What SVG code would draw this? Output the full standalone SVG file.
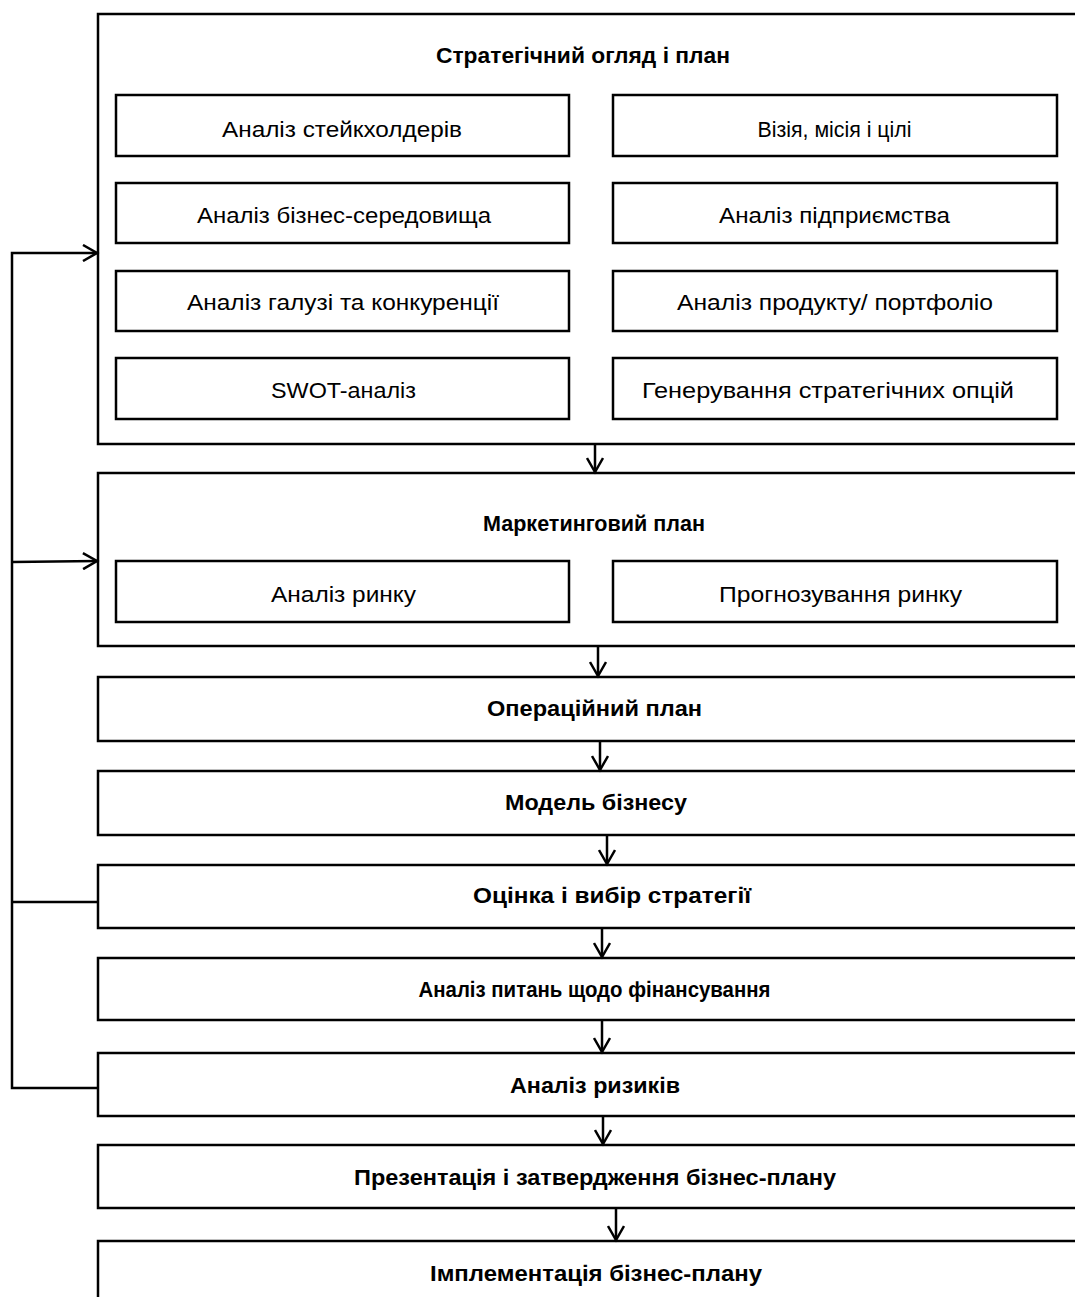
<svg xmlns="http://www.w3.org/2000/svg" width="1075" height="1297" viewBox="0 0 1075 1297">
<defs>
<style>
.b{fill:#fff;stroke:#000;stroke-width:2.5}
.t{font-family:"Liberation Sans",Arial,sans-serif;font-size:22px;text-anchor:middle;fill:#000}
.h{font-family:"Liberation Sans",Arial,sans-serif;font-size:22px;font-weight:bold;text-anchor:middle;fill:#000}
.c{fill:none;stroke:#000;stroke-width:2.5}
</style>
<marker id="a" markerWidth="18" markerHeight="18" refX="15" refY="9" orient="auto" markerUnits="userSpaceOnUse">
<path d="M1,1 L15,9 L1,17" fill="none" stroke="#000" stroke-width="2.5"/>
</marker>
</defs>
<rect width="1075" height="1297" fill="#fff"/>
<g id="strategic">
<rect class="b" x="98" y="14" width="1000" height="430"/>
<text class="h" x="583" y="63" textLength="294" lengthAdjust="spacingAndGlyphs">Стратегічний огляд і план</text>
</g>
<g id="stakeholders"><rect class="b" x="116" y="95" width="453" height="61"/><text class="t" x="342" y="137" textLength="240" lengthAdjust="spacingAndGlyphs">Аналіз стейкхолдерів</text></g>
<g id="vision"><rect class="b" x="613" y="95" width="444" height="61"/><text class="t" x="834.5" y="137" textLength="154" lengthAdjust="spacingAndGlyphs">Візія, місія і цілі</text></g>
<g id="environment"><rect class="b" x="116" y="183" width="453" height="60"/><text class="t" x="344" y="223" textLength="294" lengthAdjust="spacingAndGlyphs">Аналіз бізнес-середовища</text></g>
<g id="enterprise"><rect class="b" x="613" y="183" width="444" height="60"/><text class="t" x="834.5" y="223" textLength="231" lengthAdjust="spacingAndGlyphs">Аналіз підприємства</text></g>
<g id="industry"><rect class="b" x="116" y="271" width="453" height="60"/><text class="t" x="343" y="310" textLength="312" lengthAdjust="spacingAndGlyphs">Аналіз галузі та конкуренції</text></g>
<g id="product"><rect class="b" x="613" y="271" width="444" height="60"/><text class="t" x="835" y="310" textLength="316" lengthAdjust="spacingAndGlyphs">Аналіз продукту/ портфоліо</text></g>
<g id="swot"><rect class="b" x="116" y="358" width="453" height="61"/><text class="t" x="343.5" y="398" textLength="145" lengthAdjust="spacingAndGlyphs">SWOT-аналіз</text></g>
<g id="options"><rect class="b" x="613" y="358" width="444" height="61"/><text class="t" x="828" y="398" textLength="372" lengthAdjust="spacingAndGlyphs">Генерування стратегічних опцій</text></g>
<g id="marketing">
<rect class="b" x="98" y="473" width="1000" height="173"/>
<text class="h" x="594" y="531" textLength="222" lengthAdjust="spacingAndGlyphs">Маркетинговий план</text>
</g>
<g id="market"><rect class="b" x="116" y="561" width="453" height="61"/><text class="t" x="343.5" y="602" textLength="145" lengthAdjust="spacingAndGlyphs">Аналіз ринку</text></g>
<g id="forecast"><rect class="b" x="613" y="561" width="444" height="61"/><text class="t" x="840.5" y="602" textLength="243" lengthAdjust="spacingAndGlyphs">Прогнозування ринку</text></g>
<g id="operational"><rect class="b" x="98" y="677" width="1000" height="64"/><text class="h" x="594.5" y="716" textLength="215" lengthAdjust="spacingAndGlyphs">Операційний план</text></g>
<g id="model"><rect class="b" x="98" y="771" width="1000" height="64"/><text class="h" x="596" y="810" textLength="182" lengthAdjust="spacingAndGlyphs">Модель бізнесу</text></g>
<g id="evaluation"><rect class="b" x="98" y="865" width="1000" height="63"/><text class="h" x="612" y="903" textLength="278" lengthAdjust="spacingAndGlyphs">Оцінка і вибір стратегії</text></g>
<g id="financing"><rect class="b" x="98" y="958" width="1000" height="62"/><text class="h" x="594.5" y="997" textLength="352" lengthAdjust="spacingAndGlyphs">Аналіз питань щодо фінансування</text></g>
<g id="risks"><rect class="b" x="98" y="1053" width="1000" height="63"/><text class="h" x="595" y="1093" textLength="170" lengthAdjust="spacingAndGlyphs">Аналіз ризиків</text></g>
<g id="presentation"><rect class="b" x="98" y="1145" width="1000" height="63"/><text class="h" x="595" y="1185" textLength="482" lengthAdjust="spacingAndGlyphs">Презентація і затвердження бізнес-плану</text></g>
<g id="implementation"><rect class="b" x="98" y="1241" width="1000" height="100"/><text class="h" x="596" y="1281" textLength="332" lengthAdjust="spacingAndGlyphs">Імплементація бізнес-плану</text></g>
<g id="connectors">
<line class="c" x1="595" y1="444" x2="595" y2="472" marker-end="url(#a)"/>
<line class="c" x1="598" y1="646" x2="598" y2="676" marker-end="url(#a)"/>
<line class="c" x1="600" y1="741" x2="600" y2="770" marker-end="url(#a)"/>
<line class="c" x1="607" y1="835" x2="607" y2="864" marker-end="url(#a)"/>
<line class="c" x1="602" y1="928" x2="602" y2="957" marker-end="url(#a)"/>
<line class="c" x1="602" y1="1020" x2="602" y2="1052" marker-end="url(#a)"/>
<line class="c" x1="603" y1="1116" x2="603" y2="1144" marker-end="url(#a)"/>
<line class="c" x1="616" y1="1208" x2="616" y2="1240" marker-end="url(#a)"/>
<polyline class="c" points="98,1088 12,1088 12,253 97,253" marker-end="url(#a)"/>
<line class="c" x1="12" y1="562" x2="97" y2="561" marker-end="url(#a)"/>
<line class="c" x1="12" y1="902" x2="98" y2="902"/>
</g>
</svg>
